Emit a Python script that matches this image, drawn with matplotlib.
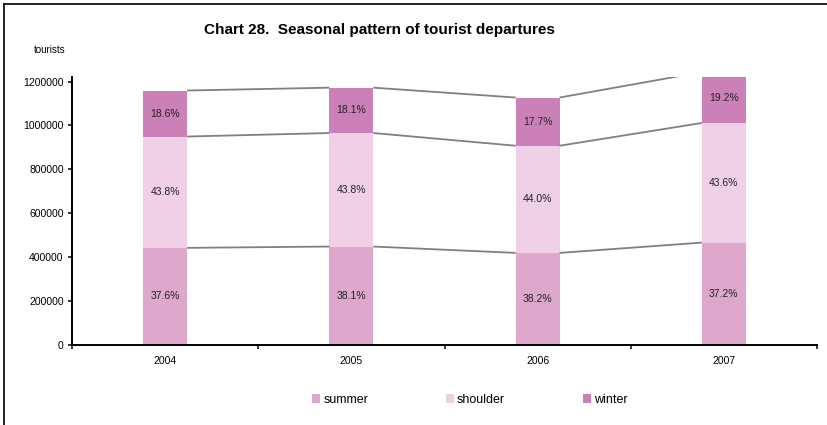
import matplotlib.pyplot as plt
from matplotlib.lines import Line2D
from matplotlib.patches import Patch

plt.rcParams["font.family"] = ["Liberation Sans", "DejaVu Sans"]

years = ["2004", "2005", "2006", "2007"]
summer = [441000, 447000, 418000, 465000]
shoulder = [508000, 518000, 489000, 546000]
winter = [210000, 207000, 220000, 232000]

summer_pct = ["37.6%", "38.1%", "38.2%", "37.2%"]
shoulder_pct = ["43.8%", "43.8%", "44.0%", "43.6%"]
winter_pct = ["18.6%", "18.1%", "17.7%", "19.2%"]

yticks = [0, 200000, 400000, 600000, 800000, 1000000, 1200000]

COLORS = {"summer": "#dda8cc", "shoulder": "#f0d0e6", "winter": "#cc80b8"}
BAR_W = 0.236


def main():
    fig = plt.figure(figsize=(8.28, 4.25), dpi=100)
    ax = fig.add_axes([0.087, 0.1894, 0.8997, 0.6301])

    x = list(range(len(years)))
    series = [
        ("summer", summer, summer_pct),
        ("shoulder", shoulder, shoulder_pct),
        ("winter", winter, winter_pct),
    ]

    bottoms = [0] * len(years)
    levels = []
    for name, vals, pcts in series:
        ax.bar(x, vals, BAR_W, bottom=bottoms, color=COLORS[name], linewidth=0, zorder=2)
        for i, v in enumerate(vals):
            ax.text(i, bottoms[i] + v / 2, pcts[i], ha="center", va="center",
                    fontsize=7.5, color="#222222", zorder=4)
        bottoms = [b + v for b, v in zip(bottoms, vals)]
        levels.append(list(bottoms))

    # series lines joining the segment tops
    for tops in levels:
        for i in range(len(years) - 1):
            ax.plot([i + BAR_W / 2, i + 1 - BAR_W / 2], [tops[i], tops[i + 1]],
                    color="#808080", lw=1.3, zorder=3, solid_capstyle="butt")

    ax.set_xlim(-0.5, len(years) - 0.5)
    ax.set_ylim(0, 1222000)
    ax.set_yticks(yticks)
    ax.set_yticklabels([str(t) for t in yticks], fontsize=7.5)
    ax.set_xticks(x)
    ax.set_xticklabels(years, fontsize=7.5)
    ax.tick_params(axis="x", length=0, pad=8)
    ax.set_xticks([i - 0.5 for i in range(len(years) + 1)], minor=True)
    ax.tick_params(axis="x", which="minor", length=3, width=1.1, direction="out")
    ax.tick_params(axis="y", length=3, width=1.1, direction="out", pad=3)

    for side in ("top", "right"):
        ax.spines[side].set_visible(False)
    for side in ("left", "bottom"):
        ax.spines[side].set_linewidth(1.4)

    fig.text(0.458, 0.929, "Chart 28.  Seasonal pattern of tourist departures",
             ha="center", va="center", fontsize=11, fontweight="bold")
    fig.text(0.06, 0.882, "tourists", ha="center", va="center", fontsize=7)

    handles = [Patch(facecolor=COLORS[n], edgecolor="none", label=n) for n, _, _ in series]
    fig.legend(handles=handles, loc="center", bbox_to_anchor=(0.5675, 0.059), ncol=3,
               frameon=False, fontsize=9, handlelength=0.65, handleheight=0.65,
               handletextpad=0.25, columnspacing=6.2)

    # outer frame, only top and left edges visible
    fig.add_artist(Line2D([0.005, 1.0], [0.99, 0.99], color="black", lw=1.2))
    fig.add_artist(Line2D([0.005, 0.005], [0.0, 0.99], color="black", lw=1.2))

    fig.savefig("out.png", dpi=100)
    plt.close(fig)


if __name__ == "__main__":
    main()
